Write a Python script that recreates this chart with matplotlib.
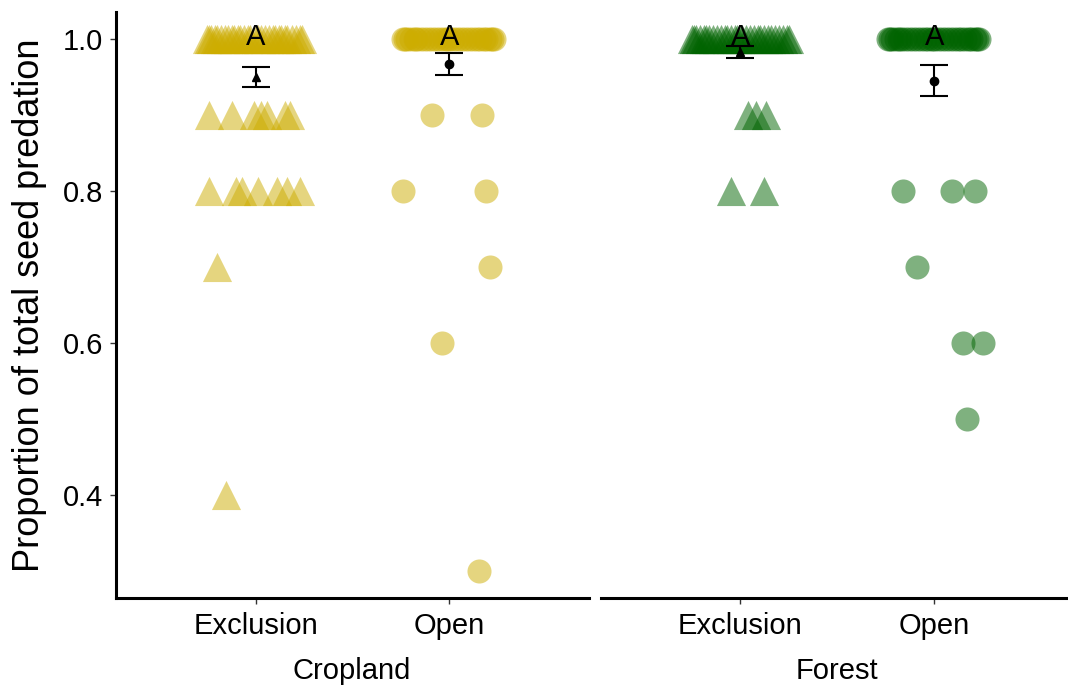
import numpy as np
import matplotlib.pyplot as plt

plt.rcParams['font.family'] = ['Liberation Sans', 'DejaVu Sans']

habitats = ["Cropland", "Forest"]
treatments = ["Exclusion", "Open"]
colors = {"Cropland": "#CDAD00", "Forest": "#006400"}
markers = {"Exclusion": "^", "Open": "o"}

crop_excl_y = [1.0] * 30 + [0.9] * 7 + [0.8] * 7 + [0.7, 0.4]
crop_excl_dx = [-0.25, -0.24, -0.23, -0.21, -0.20, -0.18, -0.16, -0.14, -0.12, -0.11,
                -0.09, -0.08, -0.06, -0.04, -0.03, 0.0, 0.01, 0.03, 0.05, 0.07,
                0.09, 0.10, 0.12, 0.13, 0.15, 0.16, 0.19, 0.21, 0.23, 0.24,
                -0.24, -0.12, -0.01, 0.03, 0.06, 0.15, 0.18,
                -0.24, -0.10, -0.07, 0.01, 0.11, 0.16, 0.23,
                -0.20, -0.15]

crop_open_y = [1.0] * 28 + [0.9, 0.9, 0.8, 0.8, 0.7, 0.6, 0.3]
crop_open_dx = [-0.24, -0.23, -0.22, -0.20, -0.18, -0.17, -0.15, -0.13, -0.11, -0.09,
                -0.07, -0.05, -0.03, -0.01, 0.0, 0.02, 0.04, 0.06, 0.08, 0.10,
                0.12, 0.14, 0.16, 0.18, 0.19, 0.21, 0.22, 0.23,
                -0.09, 0.17, -0.24, 0.19, 0.21, -0.04, 0.15]

forest_excl_y = [1.0] * 30 + [0.9] * 3 + [0.8] * 2
forest_excl_dx = [-0.25, -0.24, -0.23, -0.21, -0.19, -0.18, -0.16, -0.14, -0.12, -0.10,
                  -0.08, -0.07, -0.05, -0.03, -0.02, 0.0, 0.01, 0.03, 0.05, 0.07,
                  0.09, 0.10, 0.12, 0.14, 0.16, 0.18, 0.20, 0.22, 0.24, 0.25,
                  0.04, 0.08, 0.13, -0.05, 0.12]

forest_open_y = [1.0] * 28 + [0.8, 0.8, 0.8, 0.7, 0.6, 0.6, 0.5]
forest_open_dx = [-0.24, -0.23, -0.22, -0.20, -0.18, -0.17, -0.15, -0.13, -0.11, -0.09,
                  -0.07, -0.05, -0.03, -0.01, 0.0, 0.02, 0.04, 0.06, 0.08, 0.10,
                  0.12, 0.14, 0.16, 0.18, 0.19, 0.21, 0.22, 0.23,
                  -0.16, 0.09, 0.21, -0.09, 0.15, 0.25, 0.17]

# group means and standard errors
crop_mean = [0.950, 0.967]
crop_se = [0.013, 0.015]
forest_mean = [0.983, 0.945]
forest_se = [0.008, 0.0205]

letters = ["A", "A"]

points = {
    "Cropland": [(crop_excl_y, crop_excl_dx), (crop_open_y, crop_open_dx)],
    "Forest": [(forest_excl_y, forest_excl_dx), (forest_open_y, forest_open_dx)],
}
summary = {"Cropland": (crop_mean, crop_se), "Forest": (forest_mean, forest_se)}

fig = plt.figure(figsize=(10.68, 6.87), dpi=100)
ax1 = fig.add_axes([0.1086, 0.1296, 0.4429, 0.853])
ax2 = fig.add_axes([0.5627, 0.1296, 0.4373, 0.853], sharey=ax1)

for ax, hab in zip([ax1, ax2], habitats):
    for i, trt in enumerate(treatments):
        y, dx = points[hab][i]
        x = i + 1 + np.array(dx)
        size = 440 if trt == "Exclusion" else 300
        ax.scatter(x, y, s=size, marker=markers[trt], color=colors[hab],
                   alpha=0.5, linewidths=0, zorder=2)
    means, ses = summary[hab]
    for i, trt in enumerate(treatments):
        ax.errorbar(i + 1, means[i], yerr=ses[i], fmt=markers[trt], color="black",
                    ms=6, capsize=10, elinewidth=1.5, capthick=1.5, zorder=3)
        ax.text(i + 1, 0.992, letters[i], ha="center", va="baseline",
                fontsize=21, color="black", zorder=4)
    ax.set_xticks([1, 2])
    ax.set_xticklabels(treatments, fontsize=21)
    ax.tick_params(axis="x", length=4, width=1, color="#333333", pad=6)
    ax.spines["top"].set_visible(False)
    ax.spines["right"].set_visible(False)
    ax.spines["bottom"].set_linewidth(2.2)

ax1.set_xlim(0.28, 2.72)
ax2.set_xlim(0.28, 2.69)
ax1.set_ylim(0.2645, 1.0355)
ax1.set_yticks([0.4, 0.6, 0.8, 1.0])
ax1.set_yticklabels(["0.4", "0.6", "0.8", "1.0"], fontsize=21)
ax1.tick_params(axis="y", length=4, width=1, color="#333333", pad=5)
ax1.spines["left"].set_linewidth(2.2)
ax2.spines["left"].set_visible(False)
ax2.tick_params(axis="y", left=False, labelleft=False)

fig.text(0.028, 0.556, "Proportion of total seed predation", rotation=90,
         ha="center", va="center", fontsize=26)
fig.text(0.3296, 0.024, "Cropland", ha="center", va="center", fontsize=21)
fig.text(0.784, 0.024, "Forest", ha="center", va="center", fontsize=21)

fig.savefig("out.png", dpi=100)
